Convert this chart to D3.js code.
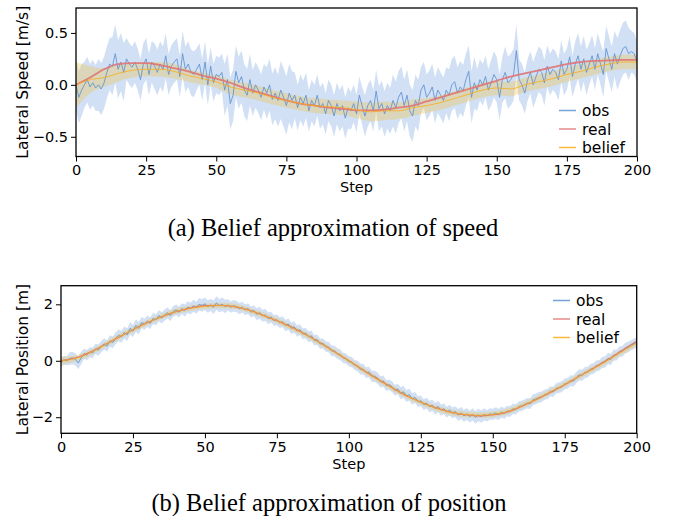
<!DOCTYPE html>
<html>
<head>
<meta charset="UTF-8">
<title>Belief approximation</title>
<script src="https://cdn.jsdelivr.net/npm/d3@7"></script>
<style>
  body, html { margin:0; padding:0; background:#fff; }
  text { font-family: "DejaVu Sans", sans-serif; fill:#000; }
  .caption { font-family: "Liberation Serif", "Times New Roman", serif; font-size:24.5px; }
</style>
</head>
<body>
<svg id="chart" width="674" height="516"></svg>
<script type="text/javascript">

// ---- data ----
var xTicks = [0, 25, 50, 75, 100, 125, 150, 175, 200];
var coarseSteps = d3.range(0, 201, 5);

// (a) lateral speed
var speedObs = [
  0, -0.12, -0.05, 0.0, 0.05, -0.02, 0.02, -0.03, 0.0, -0.04, 0.02,
  0.12, 0.2, 0.18, 0.3, 0.15, 0.22, 0.12, 0.25, 0.2, 0.17,
  0.22, 0.15, 0.05, 0.2, 0.25, 0.1, 0.22, 0.18, 0.12, 0.2,
  0.15, 0.28, 0.1, 0.18, 0.22, 0.25, 0.08, 0.3, 0.15, 0.2,
  0.12, 0.1, 0.15, 0.2, 0.05, 0.22, 0.0, 0.18, 0.02, 0.1,
  0.08, 0.12, -0.05, 0.05, -0.18, -0.1, 0.13, 0.02, 0.08, -0.05,
  -0.1, 0.05, -0.08, 0.0, -0.05, -0.12, -0.02, -0.08, 0.0, -0.14,
  -0.08, -0.15, -0.05, -0.12, -0.2, -0.08, -0.15, -0.1, -0.22, -0.12,
  -0.18, -0.1, -0.25, -0.15, -0.2, -0.1, -0.22, -0.18, -0.28, -0.15,
  -0.2, -0.3, -0.18, -0.25, -0.2, -0.32, -0.22, -0.25, -0.18, -0.28,
  -0.1, -0.2, -0.3, -0.2, -0.15, -0.25, -0.06, -0.23, -0.18, -0.28,
  -0.2, -0.25, -0.15, -0.22, -0.12, -0.07, -0.2, -0.1, -0.25, -0.3,
  -0.15, -0.2, -0.05, 0.0, -0.12, -0.08, -0.02, -0.15, -0.05, -0.1,
  -0.15, -0.05, -0.1, 0.0, 0.03, -0.08, -0.02, -0.06, 0.05, 0.13,
  -0.12, 0.02, -0.05, 0.05, 0.0, 0.08, -0.05, 0.02, 0.1, 0.05,
  -0.12, 0.05, 0.12, 0.02, 0.05, 0.1, 0.33, 0.05, 0.0, -0.08,
  0.05, 0.12, 0.0, 0.08, 0.15, 0.12, 0.02, 0.18, 0.1, 0.15,
  0.12, 0.05, 0.23, 0.1, 0.15, 0.27, 0.08, 0.2, 0.28, 0.15,
  0.25, 0.12, 0.2, 0.28, 0.15, 0.3, 0.2, 0.1, 0.35, 0.25,
  0.15, 0.3, 0.2, 0.28, 0.35, 0.37, 0.3, 0.32, 0.3, 0.22
];
var speedObsStd = [0.25, 0.22, 0.25, 0.28, 0.2, 0.2, 0.22, 0.2, 0.22, 0.2,
  0.18, 0.25, 0.25, 0.22, 0.25, 0.28, 0.22, 0.2, 0.2, 0.2,
  0.18, 0.2, 0.22, 0.25, 0.25, 0.22, 0.22, 0.25, 0.25, 0.2,
  0.22, 0.25, 0.2, 0.22, 0.2, 0.2, 0.22, 0.2, 0.22, 0.25, 0.2];
var speedReal = [0.0, 0.07, 0.15, 0.2, 0.21, 0.21, 0.19, 0.16, 0.13, 0.09,
  0.06, 0.02, -0.03, -0.07, -0.11, -0.15, -0.18, -0.2, -0.22, -0.23,
  -0.245, -0.245, -0.24, -0.22, -0.2, -0.16, -0.12, -0.08, -0.04, 0.0,
  0.04, 0.08, 0.11, 0.14, 0.17, 0.2, 0.22, 0.23, 0.235, 0.24, 0.24];
var speedBelief = [0.0, 0.05, 0.07, 0.11, 0.14, 0.15, 0.15, 0.13, 0.09, 0.06,
  0.03, -0.02, -0.05, -0.08, -0.12, -0.15, -0.18, -0.2, -0.21, -0.22,
  -0.24, -0.26, -0.25, -0.25, -0.22, -0.2, -0.17, -0.13, -0.09, -0.05,
  -0.03, -0.04, 0.0, 0.03, 0.06, 0.1, 0.13, 0.17, 0.2, 0.22, 0.22];
var speedBeliefStd = [0.22, 0.13, 0.09, 0.08, 0.07, 0.07, 0.07, 0.07, 0.06, 0.06,
  0.06, 0.07, 0.07, 0.07, 0.07, 0.07, 0.07, 0.07, 0.07, 0.07,
  0.08, 0.09, 0.09, 0.08, 0.08, 0.07, 0.07, 0.07, 0.07, 0.07,
  0.07, 0.07, 0.07, 0.07, 0.07, 0.07, 0.07, 0.07, 0.07, 0.07, 0.07];

// (b) lateral position
var posObs = [
  -0.05, 0.02, 0.0, 0.08, 0.1,
  0.05, -0.08, 0.1, 0.25, 0.2,
  0.3, 0.28, 0.42, 0.38, 0.5,
  0.6, 0.52, 0.7, 0.65, 0.8,
  0.9, 0.85, 1.0, 0.92, 1.15,
  1.05, 1.25, 1.15, 1.35, 1.3,
  1.4, 1.33, 1.5, 1.45, 1.6,
  1.52, 1.62, 1.7, 1.6, 1.75,
  1.8, 1.72, 1.85, 1.78, 1.9,
  1.85, 1.95, 1.88, 2.0, 1.96,
  2.02, 1.92, 1.98, 1.9, 2.05,
  1.95, 2.0, 1.92, 1.98, 1.9,
  1.95, 1.92, 1.85, 1.9, 1.8,
  1.85, 1.72, 1.78, 1.65, 1.7,
  1.6, 1.62, 1.5, 1.55, 1.42,
  1.45, 1.35, 1.38, 1.25, 1.3,
  1.15, 1.2, 1.05, 1.1, 0.95,
  0.98, 0.85, 0.88, 0.72, 0.75,
  0.6, 0.62, 0.5, 0.48, 0.35,
  0.35, 0.25, 0.22, 0.1, 0.08,
  -0.02, -0.05, -0.15, -0.18, -0.3,
  -0.3, -0.42, -0.4, -0.55, -0.55,
  -0.62, -0.75, -0.72, -0.88, -0.85,
  -0.92, -1.05, -1.0, -1.15, -1.1,
  -1.25, -1.2, -1.35, -1.3, -1.45,
  -1.42, -1.55, -1.5, -1.62, -1.58,
  -1.7, -1.62, -1.75, -1.7, -1.82,
  -1.75, -1.85, -1.8, -1.92, -1.85,
  -1.95, -1.88, -1.98, -1.9, -2.0,
  -1.92, -1.98, -1.9, -1.95, -1.88,
  -1.9, -1.85, -1.9, -1.82, -1.86,
  -1.78, -1.8, -1.7, -1.72, -1.62,
  -1.6, -1.55, -1.5, -1.52, -1.38,
  -1.35, -1.3, -1.28, -1.2, -1.18,
  -1.08, -1.1, -0.98, -0.95, -0.92,
  -0.82, -0.8, -0.7, -0.72, -0.6,
  -0.5, -0.52, -0.42, -0.4, -0.3,
  -0.28, -0.18, -0.16, -0.06, -0.05,
  0.08, 0.05, 0.2, 0.2, 0.32,
  0.33, 0.45, 0.48, 0.55, 0.6,
  0.65
];
var posObsStd = [0.16, 0.22, 0.18, 0.2, 0.21, 0.22, 0.2, 0.2, 0.19, 0.21,
  0.22, 0.24, 0.2, 0.19, 0.21, 0.19, 0.2, 0.19, 0.18, 0.19,
  0.18, 0.19, 0.2, 0.19, 0.21, 0.19, 0.2, 0.19, 0.21, 0.22,
  0.2, 0.19, 0.18, 0.19, 0.18, 0.19, 0.2, 0.19, 0.2, 0.19, 0.18];
var posReal = [0.0, 0.1, 0.3, 0.56, 0.83, 1.1, 1.35, 1.56, 1.74, 1.87,
  1.95, 1.96, 1.92, 1.8, 1.62, 1.42, 1.2, 0.93, 0.64, 0.32,
  0.0, -0.33, -0.65, -0.95, -1.24, -1.47, -1.66, -1.81, -1.91, -1.95,
  -1.92, -1.82, -1.62, -1.38, -1.12, -0.85, -0.55, -0.26, 0.04, 0.37, 0.7];
var posBelief = [0.0, 0.08, 0.28, 0.55, 0.84, 1.1, 1.35, 1.57, 1.75, 1.86,
  1.93, 1.96, 1.93, 1.8, 1.62, 1.42, 1.18, 0.93, 0.63, 0.32,
  0.0, -0.33, -0.66, -0.96, -1.24, -1.47, -1.67, -1.82, -1.9, -1.93,
  -1.9, -1.8, -1.6, -1.37, -1.1, -0.84, -0.55, -0.28, 0.02, 0.33, 0.62];
var posBeliefStd = [0.14, 0.11, 0.1, 0.1, 0.1, 0.1, 0.1, 0.1, 0.1, 0.1,
  0.1, 0.1, 0.1, 0.1, 0.1, 0.1, 0.1, 0.1, 0.1, 0.1,
  0.1, 0.1, 0.1, 0.1, 0.1, 0.1, 0.1, 0.1, 0.1, 0.1,
  0.1, 0.1, 0.1, 0.1, 0.1, 0.1, 0.1, 0.1, 0.1, 0.1, 0.1];

var colObsLine = '#5f92d2', colObsFill = '#4682d2',
    colReal = '#e07474', colBelief = '#f7ad1a', colBeliefFill = '#f0c040';

var svg = d3.select('#chart');

function drawPanel(p) {
  var g = svg.append('g');
  var x = d3.scaleLinear().domain([0, 200]).range([p.left, p.right]);
  var y = d3.scaleLinear().domain(p.yDomain).range([p.bottom, p.top]);

  var clipId = 'clip_' + p.id;
  svg.append('clipPath').attr('id', clipId).append('rect')
     .attr('x', p.left).attr('y', p.top)
     .attr('width', p.right - p.left).attr('height', p.bottom - p.top);

  var plot = g.append('g').attr('clip-path', 'url(#' + clipId + ')');
  var std5 = function(arr, i) { return arr[Math.min(arr.length - 1, Math.round(i / 5))]; };

  // obs band
  plot.append('path').datum(p.obs)
    .attr('fill', colObsFill).attr('fill-opacity', 0.25)
    .attr('d', d3.area()
       .x(function(d, i) { return x(i); })
       .y0(function(d, i) { return y(d - std5(p.obsStd, i)); })
       .y1(function(d, i) { return y(d + std5(p.obsStd, i)); }));

  // belief band
  plot.append('path').datum(p.belief)
    .attr('fill', colBeliefFill).attr('fill-opacity', 0.32)
    .attr('d', d3.area().curve(d3.curveMonotoneX)
       .x(function(d, i) { return x(coarseSteps[i]); })
       .y0(function(d, i) { return y(d - p.beliefStd[i]); })
       .y1(function(d, i) { return y(d + p.beliefStd[i]); }));

  plot.append('path').datum(p.obs)
    .attr('fill', 'none').attr('stroke', colObsLine).attr('stroke-width', 1)
    .attr('stroke-opacity', 0.85)
    .attr('d', d3.line().x(function(d, i) { return x(i); }).y(function(d) { return y(d); }));

  plot.append('path').datum(p.real)
    .attr('fill', 'none').attr('stroke', colReal).attr('stroke-width', p.realWidth)
    .attr('stroke-opacity', 0.9)
    .attr('d', d3.line().curve(d3.curveMonotoneX)
       .x(function(d, i) { return x(coarseSteps[i]); }).y(function(d) { return y(d); }));

  plot.append('path').datum(p.belief)
    .attr('fill', 'none').attr('stroke', colBelief).attr('stroke-width', 1)
    .attr('stroke-opacity', 0.8)
    .attr('d', d3.line().curve(d3.curveMonotoneX)
       .x(function(d, i) { return x(coarseSteps[i]); }).y(function(d) { return y(d); }));

  // axes
  var xa = g.append('g').attr('transform', 'translate(0,' + p.bottom + ')')
    .call(d3.axisBottom(x).tickValues(xTicks).tickSize(5).tickPadding(3));
  var ya = g.append('g').attr('transform', 'translate(' + p.left + ',0)')
    .call(d3.axisLeft(y).tickValues(p.yTicks).tickFormat(p.yFormat).tickSize(5).tickPadding(3));
  [xa, ya].forEach(function(a) {
    a.select('.domain').remove();
    a.selectAll('line').attr('stroke', '#000').attr('stroke-width', 1);
    a.selectAll('text').style('font-size', '14.5px').style('font-family', '"DejaVu Sans", sans-serif').attr('fill', '#000');
  });

  g.append('rect').attr('x', p.left).attr('y', p.top)
    .attr('width', p.right - p.left).attr('height', p.bottom - p.top)
    .attr('fill', 'none').attr('stroke', '#000').attr('stroke-width', 1.3);

  g.append('text').attr('x', (p.left + p.right) / 2).attr('y', p.bottom + 35.5)
    .attr('text-anchor', 'middle').style('font-size', '14.5px').text('Step');

  g.append('text')
    .attr('transform', 'translate(28,' + ((p.top + p.bottom) / 2) + ') rotate(-90)')
    .attr('text-anchor', 'middle').style('font-size', '15.5px').text(p.yLabel);

  // legend
  var items = [['obs', colObsLine], ['real', colReal], ['belief', colBelief]];
  var lg = g.append('g').attr('transform', 'translate(' + p.legendX + ',' + p.legendY + ')');
  items.forEach(function(it, k) {
    lg.append('line').attr('x1', 0).attr('x2', 17).attr('y1', k * 18.5).attr('y2', k * 18.5)
      .attr('stroke', it[1]).attr('stroke-width', 1.5).attr('stroke-opacity', 0.85);
    lg.append('text').attr('x', 23).attr('y', k * 18.5 + 5.5).style('font-size', '15.5px').text(it[0]);
  });

  svg.append('text').attr('class', 'caption')
    .attr('x', p.captionX).attr('y', p.captionY).attr('text-anchor', 'middle').text(p.caption);
}

drawPanel({
  id: 'speed', left: 76, right: 637, top: 8, bottom: 156.5,
  yDomain: [-0.69, 0.74], yTicks: [-0.5, 0, 0.5], yFormat: d3.format('.1f'),
  yLabel: 'Lateral Speed [m/s]',
  obs: speedObs, obsStd: speedObsStd, real: speedReal, belief: speedBelief, beliefStd: speedBeliefStd,
  realWidth: 1.8, legendX: 559, legendY: 110.5,
  caption: '(a) Belief approximation of speed', captionX: 333, captionY: 236
});

drawPanel({
  id: 'pos', left: 61, right: 636.7, top: 285.7, bottom: 433.3,
  yDomain: [-2.57, 2.66], yTicks: [-2, 0, 2], yFormat: d3.format('d'),
  yLabel: 'Lateral Position [m]',
  obs: posObs, obsStd: posObsStd, real: posReal, belief: posBelief, beliefStd: posBeliefStd,
  realWidth: 1.3, legendX: 553, legendY: 300.5,
  caption: '(b) Belief approximation of position', captionX: 329, captionY: 511
});

</script>
</body>
</html>
